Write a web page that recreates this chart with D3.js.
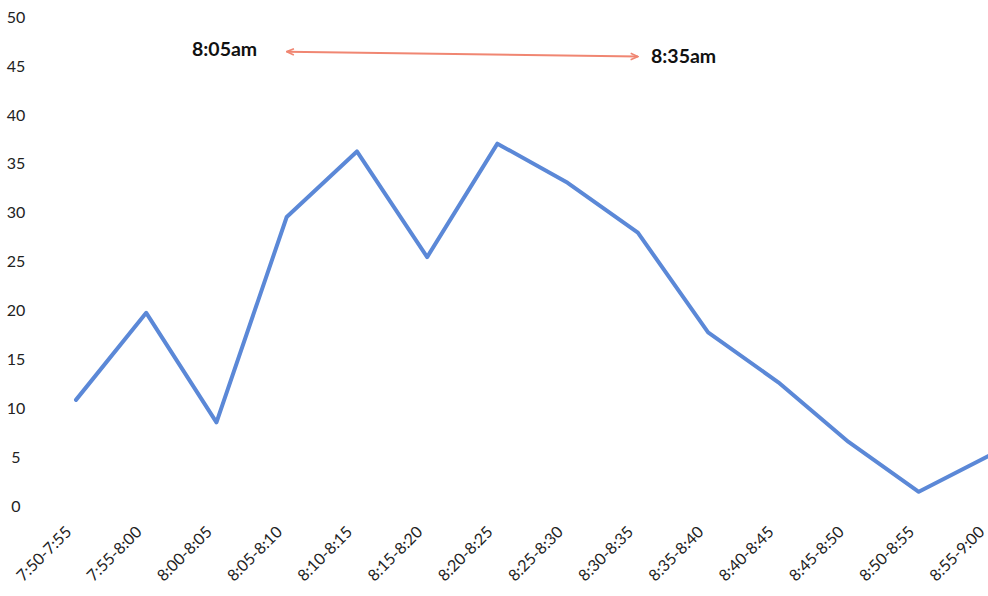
<!DOCTYPE html>
<html>
<head>
<meta charset="utf-8">
<script src="https://cdn.jsdelivr.net/npm/d3@7/dist/d3.min.js"></script>
<style>
  html, body { margin: 0; padding: 0; background: #fff; overflow: hidden; }
  svg { display: block; }
  .tick text { font-family: Lato, "Open Sans", sans-serif; fill: #222; }
</style>
</head>
<body>
<svg id="chart" width="988" height="596"></svg>
<script>
// Five-minute intervals across the morning
const intervals = [
  "7:50-7:55", "7:55-8:00", "8:00-8:05", "8:05-8:10", "8:10-8:15",
  "8:15-8:20", "8:20-8:25", "8:25-8:30", "8:30-8:35", "8:35-8:40",
  "8:40-8:45", "8:45-8:50", "8:50-8:55", "8:55-9:00"
];
// Count per interval
const counts = [10.8, 19.7, 8.5, 29.5, 36.2, 25.4, 37.0, 33.0, 27.9, 17.7, 12.6, 6.5, 1.4, 5.1];
const yTicks = [0, 5, 10, 15, 20, 25, 30, 35, 40, 45, 50];

// Peak window annotation
const peakStart = { label: "8:05am", interval: "8:05-8:10", level: 46.4 };
const peakEnd = { label: "8:35am", interval: "8:30-8:35", level: 45.9 };

const svg = d3.select("#chart");

const x = d3.scalePoint().domain(intervals).range([76, 989]);
const y = d3.scaleLinear().domain([0, 50]).range([505.5, 16.5]);

// y axis: labels only
const yAxis = svg.append("g")
  .attr("transform", "translate(16,0)")
  .call(d3.axisLeft(y).tickValues(yTicks).tickSize(0).tickPadding(0));
yAxis.select(".domain").remove();
yAxis.selectAll("text")
  .attr("text-anchor", "middle")
  .attr("dy", "0.36em")
  .style("font-size", "16px");

// x axis: rotated labels only
const xAxis = svg.append("g")
  .attr("transform", "translate(0,505)")
  .call(d3.axisBottom(x).tickSize(0).tickPadding(0));
xAxis.select(".domain").remove();
xAxis.selectAll("text")
  .attr("text-anchor", "end")
  .attr("dy", null)
  .attr("y", 0)
  .attr("transform", "translate(-4,28) rotate(-45)")
  .style("font-size", "16px");

// Line series
svg.append("path")
  .datum(counts)
  .attr("fill", "none")
  .attr("stroke", "#5b88d7")
  .attr("stroke-width", 4)
  .attr("stroke-linejoin", "round")
  .attr("stroke-linecap", "round")
  .attr("d", d3.line().x((d, i) => x(intervals[i])).y(d => y(d)));

// Double-headed arrow marking the peak window
const defs = svg.append("defs");
defs.append("marker")
  .attr("id", "arrowhead")
  .attr("viewBox", "0 0 10 10")
  .attr("refX", 9).attr("refY", 5)
  .attr("markerWidth", 9).attr("markerHeight", 9)
  .attr("markerUnits", "userSpaceOnUse")
  .attr("orient", "auto-start-reverse")
  .append("path")
  .attr("d", "M1,1.5 L9,5 L1,8.5")
  .attr("fill", "none")
  .attr("stroke", "#f08672")
  .attr("stroke-width", 1.8);

svg.append("line")
  .attr("x1", x(peakStart.interval)).attr("y1", y(peakStart.level))
  .attr("x2", x(peakEnd.interval)).attr("y2", y(peakEnd.level))
  .attr("stroke", "#f08672")
  .attr("stroke-width", 2)
  .attr("marker-start", "url(#arrowhead)")
  .attr("marker-end", "url(#arrowhead)");

svg.append("text")
  .attr("x", 192).attr("y", 56)
  .style("font-family", "Lato, 'Open Sans', sans-serif")
  .style("font-weight", "bold")
  .style("font-size", "19.5px")
  .attr("fill", "#111")
  .text(peakStart.label);

svg.append("text")
  .attr("x", 651).attr("y", 63)
  .style("font-family", "Lato, 'Open Sans', sans-serif")
  .style("font-weight", "bold")
  .style("font-size", "19.5px")
  .attr("fill", "#111")
  .text(peakEnd.label);
</script>
</body>
</html>
